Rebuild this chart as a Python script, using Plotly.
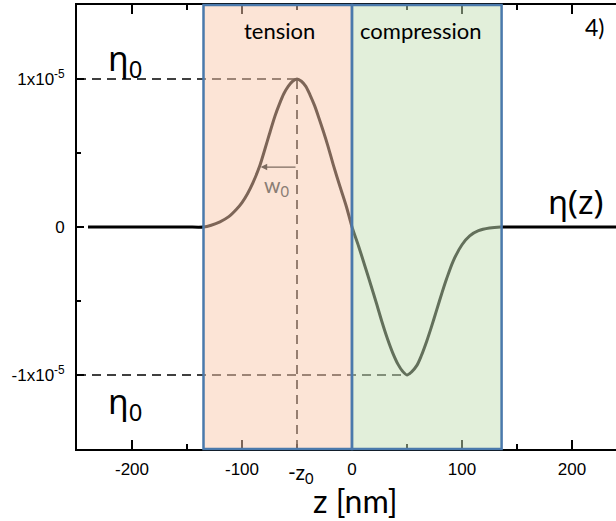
import plotly.graph_objects as go

# ---------------- data ----------------
ETA0 = 1e-5          # amplitude eta_0
Z0 = 50              # position of the extrema (nm)
W0 = 33              # width arrow length (nm)
W0_LEVEL = 0.405e-5  # height of the w0 arrow

TENSION = (-135, 0)      # shaded region limits (nm)
COMPRESSION = (0, 136)

base_left_z = [-240, -200, -170, -150]
base_left_eta = [0, 0, 0, 0]

tension_z = [-135, -128, -120, -112, -105, -100, -95, -90, -84, -79, -75, -70, -66,
             -62, -58, -54, -50, -46, -42, -38, -34, -30, -26, -22, -17, -11, -5, 0]
tension_eta = [0.0, 0.012, 0.035, 0.07, 0.12, 0.165, 0.225, 0.30, 0.41, 0.53, 0.63, 0.75, 0.83,
               0.90, 0.95, 0.985, 1.0, 0.985, 0.95, 0.89, 0.82, 0.735, 0.645, 0.55, 0.42, 0.275, 0.135, 0.0]

compression_z = [6, 12, 16, 22, 27, 32, 37, 42, 46, 50, 54, 59, 63, 68, 72, 77, 82,
                 86, 92, 100, 107, 115, 125, 135]
compression_eta = [-0.13, -0.27, -0.365, -0.51, -0.635, -0.75, -0.85, -0.93, -0.975, -1.0,
                   -0.98, -0.935, -0.87, -0.77, -0.68, -0.56, -0.44, -0.35, -0.23, -0.12,
                   -0.06, -0.025, -0.007, 0.0]

base_right_z = [150, 170, 200, 250]
base_right_eta = [0, 0, 0, 0]

x_tick_vals = [-200, -100, 0, 100, 200]
x_tick_text = ["-200", "-100", "0", "100", "200"]
x_minor_vals = [-150, -50, 50, 150]
y_tick_vals = [-1e-5, 0, 1e-5]
y_tick_text = ["-1x10<sup>-5</sup>", "0", "1x10<sup>-5</sup>"]
y_minor_vals = [-0.5e-5, 0.5e-5]

X_RANGE = [-250, 240]
Y_RANGE = [-1.5e-5, 1.5e-5]

# ---------------- figure ----------------
z_all = base_left_z + tension_z + compression_z + base_right_z
eta_all = [v * 1e-5 for v in base_left_eta + tension_eta + compression_eta + base_right_eta]

fig = go.Figure()
fig.add_trace(go.Scatter(
    x=z_all, y=eta_all, mode="lines",
    line=dict(color="black", width=3, shape="spline", smoothing=0.8),
    hoverinfo="skip", showlegend=False))

dash = "9px,6px"
shapes = [
    dict(type="line", layer="below", xref="x", yref="y", x0=X_RANGE[0], x1=-Z0, y0=ETA0, y1=ETA0,
         line=dict(color="black", width=1.6, dash=dash)),
    dict(type="line", layer="below", xref="x", yref="y", x0=X_RANGE[0], x1=Z0, y0=-ETA0, y1=-ETA0,
         line=dict(color="black", width=1.6, dash=dash)),
    dict(type="line", layer="below", xref="x", yref="y", x0=-Z0, x1=-Z0, y0=Y_RANGE[0], y1=ETA0,
         line=dict(color="black", width=1.6, dash=dash)),
    dict(type="rect", layer="above", xref="x", yref="paper", x0=TENSION[0], x1=TENSION[1], y0=0, y1=1,
         fillcolor="rgba(249,201,173,0.5)", line=dict(color="#4A79AC", width=2.5)),
    dict(type="rect", layer="above", xref="x", yref="paper", x0=COMPRESSION[0], x1=COMPRESSION[1], y0=0, y1=1,
         fillcolor="rgba(197,223,181,0.5)", line=dict(color="#4A79AC", width=2.5)),
]

txt_font = "Lato, Open Sans, sans-serif"
eta_font = "Noto Sans, DejaVu Sans, sans-serif"
annotations = [
    dict(x=-206, y=1.13e-5, xref="x", yref="y", text="η<sub>0</sub>", showarrow=False,
         font=dict(family=eta_font, size=34, color="black")),
    dict(x=-206, y=-1.19e-5, xref="x", yref="y", text="η<sub>0</sub>", showarrow=False,
         font=dict(family=eta_font, size=34, color="black")),
    dict(x=176, y=0.17e-5, xref="x", yref="y", text="η(z)", showarrow=False, xanchor="left",
         font=dict(family=eta_font, size=33, color="black")),
    dict(x=-65.5, y=1.33e-5, xref="x", yref="y", text="tension", showarrow=False,
         font=dict(family=txt_font, size=22, color="black")),
    dict(x=62.7, y=1.33e-5, xref="x", yref="y", text="compression", showarrow=False,
         font=dict(family=txt_font, size=22, color="black")),
    dict(x=220, y=1.35e-5, xref="x", yref="y", text="4)", showarrow=False,
         font=dict(family=txt_font, size=23, color="black")),
    dict(x=-68, y=0.28e-5, xref="x", yref="y", text="w<sub>0</sub>", showarrow=False,
         font=dict(family=txt_font, size=21, color="#8a7d74")),
    dict(x=-Z0 - W0, y=W0_LEVEL, ax=-Z0, ay=W0_LEVEL, xref="x", yref="y", axref="x", ayref="y",
         text="", showarrow=True, arrowhead=2, arrowsize=1, arrowwidth=1.3,
         arrowcolor="#7c6b60", standoff=0, startstandoff=0),
    dict(x=-46, y=-0.018, xref="x", yref="paper", xanchor="center", yanchor="top",
         text="-z<sub>0</sub>", showarrow=False,
         font=dict(family=txt_font, size=21, color="black")),
    dict(x=0.5176, y=-0.115, xref="paper", yref="paper", xanchor="center", yanchor="middle",
         text="z [nm]", showarrow=False,
         font=dict(family=txt_font, size=32, color="black")),
]

tick_font = dict(family="Liberation Sans, Arial, sans-serif", size=17, color="black")
fig.update_layout(
    width=616, height=521,
    margin=dict(l=77, r=0, t=5, b=72),
    paper_bgcolor="white", plot_bgcolor="white",
    shapes=shapes, annotations=annotations,
    xaxis=dict(range=X_RANGE, showgrid=False, zeroline=False,
               showline=True, linecolor="black", linewidth=1.8, mirror="ticks",
               ticks="inside", ticklen=9, tickwidth=1.5, tickcolor="black",
               tickvals=x_tick_vals, ticktext=x_tick_text, tickfont=tick_font,
               ticklabelstandoff=4,
               minor=dict(tickvals=x_minor_vals, ticks="inside", ticklen=5,
                          tickwidth=1.5, tickcolor="black", showgrid=False)),
    yaxis=dict(range=Y_RANGE, showgrid=False, zeroline=False,
               showline=True, linecolor="black", linewidth=1.8, mirror=False,
               ticks="inside", ticklen=7, tickwidth=1.5, tickcolor="black",
               tickvals=y_tick_vals, ticktext=y_tick_text, tickfont=tick_font,
               ticklabelstandoff=7,
               minor=dict(tickvals=y_minor_vals, ticks="inside", ticklen=4,
                          tickwidth=1.5, tickcolor="black", showgrid=False)),
)

fig.write_html("out.html", config={"displayModeBar": False},
               post_script="document.body.style.margin='0';document.body.style.overflow='hidden';")
